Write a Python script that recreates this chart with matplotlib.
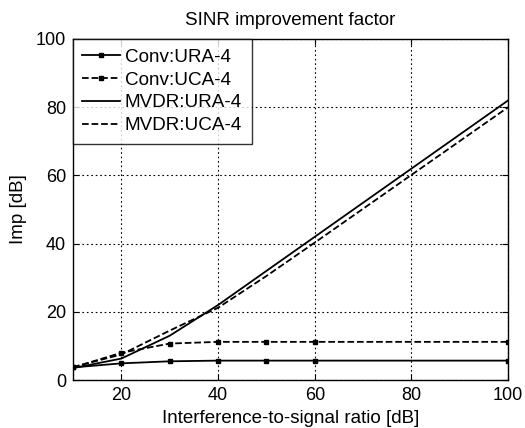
import numpy as np
import matplotlib
matplotlib.use("Agg")
import matplotlib.pyplot as plt

plt.rcParams["font.family"] = ["Liberation Sans", "DejaVu Sans"]

# interference-to-signal ratio [dB]
isr = [10, 20, 30, 40, 50, 60, 100]

# improvement factor [dB]
conv_ura = [3.7, 4.9, 5.5, 5.7, 5.7, 5.7, 5.7]
conv_uca = [3.7, 8.0, 10.7, 11.2, 11.2, 11.2, 11.2]
mvdr_ura = [3.5, 6.3, 13.0, 22.0, 32.0, 42.0, 82.0]
mvdr_uca = [3.8, 7.5, 14.5, 21.2, 30.5, 40.3, 80.0]

fig = plt.figure(figsize=(5.25, 4.28), dpi=100)
ax = fig.add_axes([0.139, 0.112, 0.829, 0.797])

ax.plot(isr, conv_ura, "k-", marker="s", ms=3.5, lw=1.3, label="Conv:URA-4")
ax.plot(isr, conv_uca, "k--", marker="s", ms=3.5, lw=1.3, label="Conv:UCA-4")
ax.plot(isr, mvdr_ura, "k-", lw=1.3, label="MVDR:URA-4")
ax.plot(isr, mvdr_uca, "k--", lw=1.3, label="MVDR:UCA-4")

ax.set_xlim(10, 100)
ax.set_ylim(0, 100)
ax.set_xticks([20, 40, 60, 80, 100])
ax.set_yticks([0, 20, 40, 60, 80, 100])
ax.grid(True, color="k", linestyle=(0, (1.5, 2.5)), linewidth=0.8)
ax.tick_params(direction="in", top=True, right=True, labelsize=13, length=4, pad=5)
for s in ax.spines.values():
    s.set_linewidth(1.0)

ax.set_xlabel("Interference-to-signal ratio [dB]", fontsize=13.5, labelpad=4)
ax.set_ylabel("Imp [dB]", fontsize=13.5, labelpad=6)
ax.set_title("SINR improvement factor", fontsize=13.5, pad=10)

leg = ax.legend(loc="upper left", fontsize=13.6, frameon=True, fancybox=False,
                edgecolor="k", borderaxespad=0, handlelength=2.0, numpoints=1,
                borderpad=0.5, labelspacing=0.3, handletextpad=0.25)
leg.get_frame().set_linewidth(1.0)

fig.savefig("out.png", dpi=100)
